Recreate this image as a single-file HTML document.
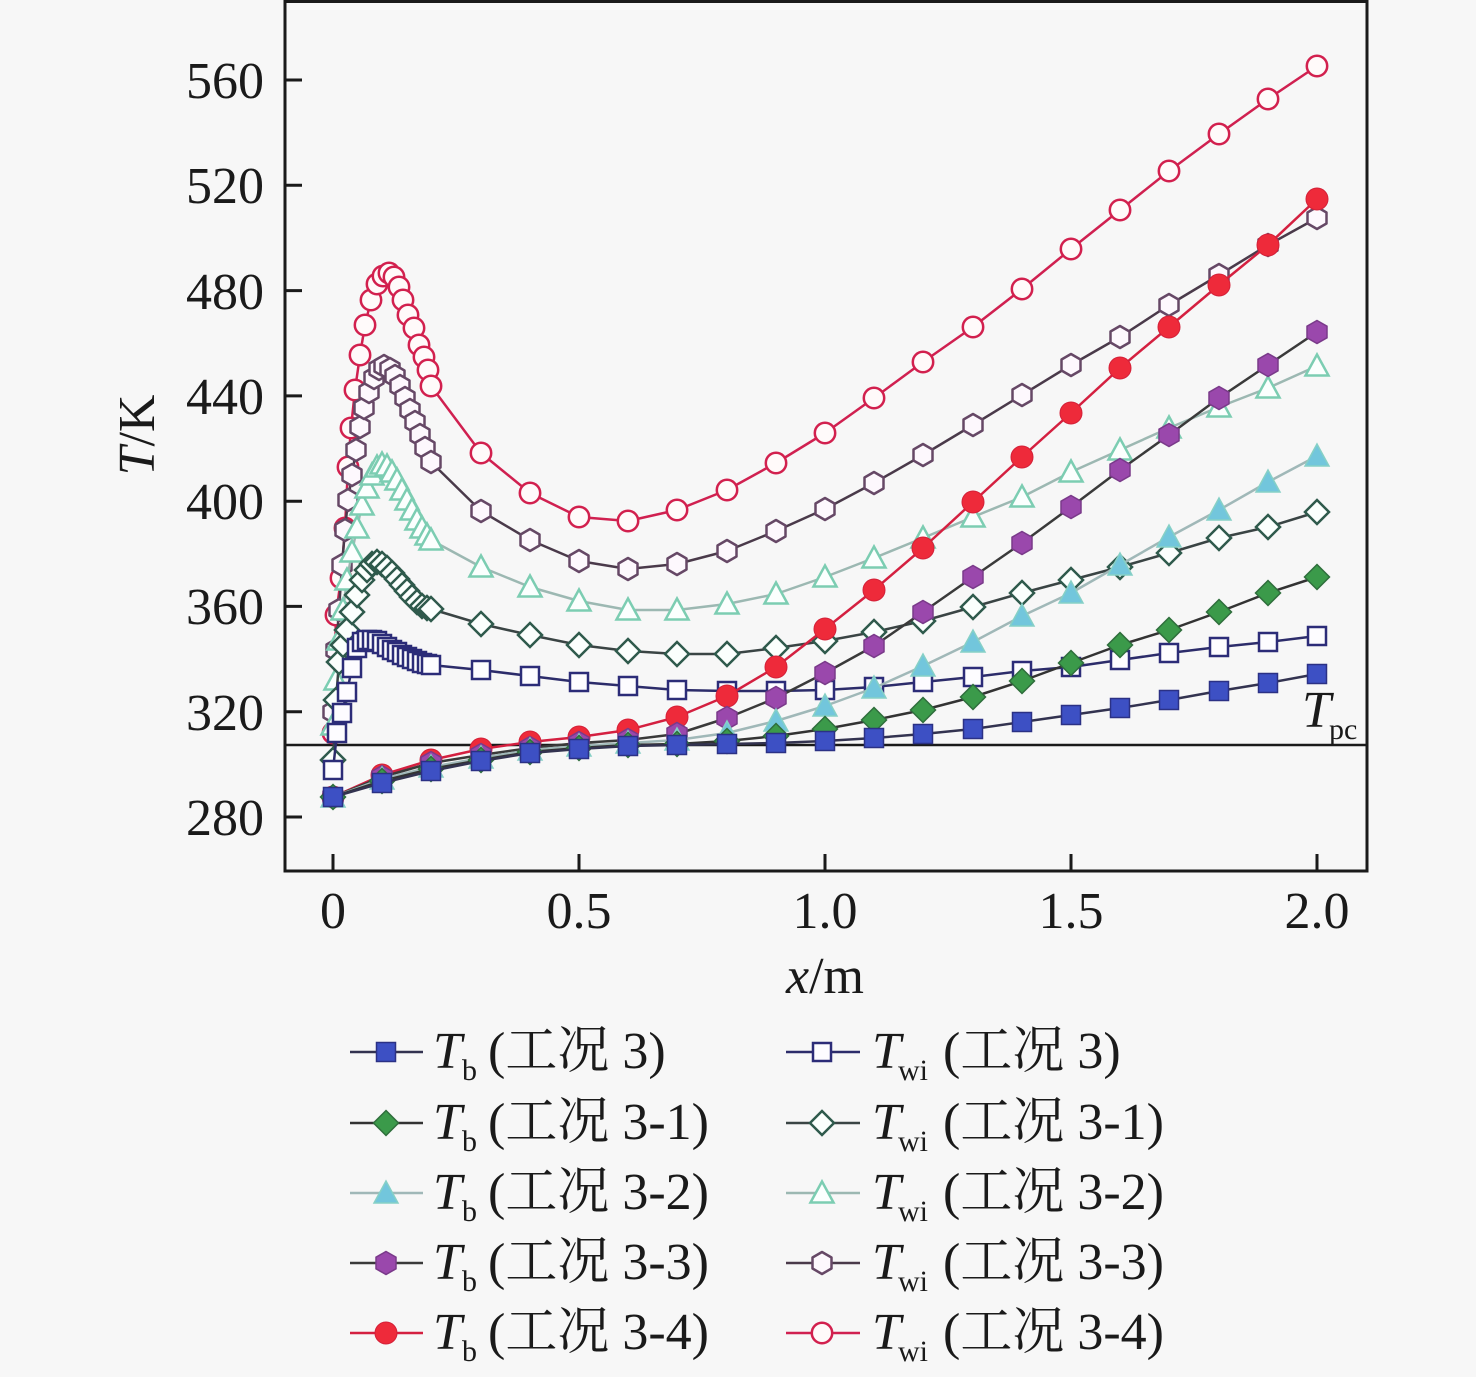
<!DOCTYPE html>
<html><head><meta charset="utf-8"><style>
html,body{margin:0;padding:0;background:#f7f7f7;}
svg{display:block;}
text{font-family:"Liberation Serif","Noto Serif CJK SC",serif;fill:#1a1a1a;}
</style></head><body>
<svg width="1476" height="1377" viewBox="0 0 1476 1377" xmlns="http://www.w3.org/2000/svg">
<defs>
<marker id="mSqF" markerUnits="userSpaceOnUse" markerWidth="30" markerHeight="30" refX="15" refY="15" overflow="visible"><rect x="5.5" y="5.5" width="19" height="19" fill="#3d50c4" stroke="#2b3185" stroke-width="1.5"/></marker>
<marker id="mSqO" markerUnits="userSpaceOnUse" markerWidth="30" markerHeight="30" refX="15" refY="15" overflow="visible"><rect x="6" y="6" width="18" height="18" fill="#fdfcff" stroke="#2c2c78" stroke-width="2.5"/></marker>
<marker id="mDiF" markerUnits="userSpaceOnUse" markerWidth="30" markerHeight="30" refX="15" refY="15" overflow="visible"><polygon points="15,2.5 27.5,15 15,27.5 2.5,15" fill="#3b9a4a" stroke="#2f6e3c" stroke-width="1.5"/></marker>
<marker id="mDiO" markerUnits="userSpaceOnUse" markerWidth="30" markerHeight="30" refX="15" refY="15" overflow="visible"><polygon points="15,3 27,15 15,27 3,15" fill="#fbfffd" stroke="#2f5a4c" stroke-width="2.5"/></marker>
<marker id="mTrF" markerUnits="userSpaceOnUse" markerWidth="30" markerHeight="30" refX="15" refY="15" overflow="visible"><polygon points="15,3 27,25 3,25" fill="#72c6dc" stroke="#86d0c6" stroke-width="1.5"/></marker>
<marker id="mTrO" markerUnits="userSpaceOnUse" markerWidth="30" markerHeight="30" refX="15" refY="15" overflow="visible"><polygon points="15,3.5 26.5,24.5 3.5,24.5" fill="#fbfffe" stroke="#7ccdb2" stroke-width="2.5"/></marker>
<marker id="mHxF" markerUnits="userSpaceOnUse" markerWidth="30" markerHeight="30" refX="15" refY="15" overflow="visible"><polygon points="15,3.5 25,9.2 25,20.8 15,26.5 5,20.8 5,9.2" fill="#9a48ac" stroke="#7a3a8a" stroke-width="1.5"/></marker>
<marker id="mHxO" markerUnits="userSpaceOnUse" markerWidth="30" markerHeight="30" refX="15" refY="15" overflow="visible"><polygon points="15,4 24.5,9.5 24.5,20.5 15,26 5.5,20.5 5.5,9.5" fill="#fdf8fd" stroke="#664866" stroke-width="2.5" stroke-linejoin="round"/></marker>
<marker id="mCiF" markerUnits="userSpaceOnUse" markerWidth="30" markerHeight="30" refX="15" refY="15" overflow="visible"><circle cx="15" cy="15" r="11" fill="#ee2a3a" stroke="#d42038" stroke-width="1"/></marker>
<marker id="mCiO" markerUnits="userSpaceOnUse" markerWidth="30" markerHeight="30" refX="15" refY="15" overflow="visible"><circle cx="15" cy="15" r="10.2" fill="#fffafa" stroke="#d2204e" stroke-width="2.5"/></marker>
</defs>

<rect x="0" y="0" width="1476" height="1377" fill="#f7f7f7"/>

<line x1="285" y1="745" x2="1367" y2="745" stroke="#1a1a1a" stroke-width="2.5"/>

<g fill="none" stroke-width="2.5" stroke-linejoin="round">
<polyline stroke="#d02050" marker-start="url(#mCiO)" marker-mid="url(#mCiO)" marker-end="url(#mCiO)" points="333,733 336,615 341,578 345,528 348,467 351,428 355,390 360,355 365,325 371,300 377,284 383,276 389,273 394,277 399,287 403,300 408,315 414,328 419,345 424,357 428,370 431,386 481,453 530,493 579,517 628,521 677,510 727,490 776,463 825,433 874,398 923,362 973,327 1022,289 1071,249 1120,210 1169,171 1219,134 1268,99 1317,66"/>
<polyline stroke="#4a3a4a" marker-start="url(#mHxO)" marker-mid="url(#mHxO)" marker-end="url(#mHxO)" points="333,712 336,650 339,610 342,565 345,530 348,500 352,475 356,450 360,427 364,408 369,392 374,378 379,369 384,366 390,369 395,376 400,386 405,398 410,410 415,422 420,435 425,448 431,462 481,511 530,540 579,561 628,569 677,564 727,551 776,531 825,509 874,483 923,455 973,425 1022,395 1071,365 1120,337 1169,305 1219,275 1268,245 1317,218"/>
<polyline stroke="#9cb8b2" marker-start="url(#mTrO)" marker-mid="url(#mTrO)" marker-end="url(#mTrO)" points="333,725 336,680 339,640 343,610 347,580 352,552 357,528 362,505 367,488 372,475 377,467 382,464 387,466 392,472 397,480 402,490 407,500 412,510 417,520 422,528 427,535 431,540 481,567 530,587 579,601 628,610 677,610 727,604 776,594 825,577 874,558 923,538 973,517 1022,497 1071,472 1120,450 1169,428 1219,407 1268,388 1317,366"/>
<polyline stroke="#3a4444" marker-start="url(#mDiO)" marker-mid="url(#mDiO)" marker-end="url(#mDiO)" points="333,760 336,700 339,662 343,645 347,630 352,612 357,595 362,580 367,570 372,564 377,562 382,564 387,568 392,573 397,579 402,585 407,591 412,597 417,602 422,606 427,608 431,609 481,624 530,635 579,645 628,651 677,654 727,654 776,648 825,641 874,632 923,621 973,607 1022,593 1071,580 1120,567 1169,553 1219,538 1268,527 1317,512"/>
<polyline stroke="#2c2c6a" marker-start="url(#mSqO)" marker-mid="url(#mSqO)" marker-end="url(#mSqO)" points="333,770 337,733 342,713 347,692 352,668 357,648 362,642 367,640 372,640 377,641 382,644 387,647 392,650 397,652 402,655 407,657 412,659 417,661 422,663 427,664 431,665 481,670 530,676 579,682 628,686 677,690 727,691 776,691 825,690 874,687 923,682 973,677 1022,671 1071,667 1120,660 1169,653 1219,647 1268,642 1317,636"/>
<polyline stroke="#d42040" marker-start="url(#mCiF)" marker-mid="url(#mCiF)" marker-end="url(#mCiF)" points="333,797 382,775 431,760 481,749 530,742 579,737 628,730 677,717 727,696 776,667 825,629 874,590 923,548 973,502 1022,457 1071,413 1120,368 1169,327 1219,285 1268,245 1317,199"/>
<polyline stroke="#3a3a3a" marker-start="url(#mHxF)" marker-mid="url(#mHxF)" marker-end="url(#mHxF)" points="333,797 382,777 431,763 481,755 530,748 579,743 628,740 677,734 727,718 776,698 825,673 874,646 923,612 973,577 1022,543 1071,507 1120,470 1169,435 1219,398 1268,365 1317,332"/>
<polyline stroke="#a0b8b8" marker-start="url(#mTrF)" marker-mid="url(#mTrF)" marker-end="url(#mTrF)" points="333,797 382,779 431,767 481,758 530,750 579,746 628,743 677,740 727,733 776,721 825,706 874,688 923,666 973,642 1022,616 1071,593 1120,565 1169,537 1219,510 1268,482 1317,456"/>
<polyline stroke="#333333" marker-start="url(#mDiF)" marker-mid="url(#mDiF)" marker-end="url(#mDiF)" points="333,797 382,781 431,769 481,760 530,752 579,748 628,745 677,744 727,741 776,736 825,729 874,720 923,710 973,697 1022,681 1071,663 1120,645 1169,630 1219,612 1268,593 1317,577"/>
<polyline stroke="#333350" marker-start="url(#mSqF)" marker-mid="url(#mSqF)" marker-end="url(#mSqF)" points="333,797 382,783 431,771 481,761 530,753 579,749 628,746 677,745 727,744 776,743 825,741 874,738 923,734 973,729 1022,722 1071,715 1120,708 1169,700 1219,691 1268,683 1317,674"/>
</g>

<rect x="285" y="1.5" width="1082" height="869.5" fill="none" stroke="#1a1a1a" stroke-width="3"/>
<g stroke="#1a1a1a" stroke-width="3">
<line x1="285" y1="817" x2="302" y2="817"/>
<line x1="285" y1="711.7" x2="302" y2="711.7"/>
<line x1="285" y1="606.4" x2="302" y2="606.4"/>
<line x1="285" y1="501.2" x2="302" y2="501.2"/>
<line x1="285" y1="395.9" x2="302" y2="395.9"/>
<line x1="285" y1="290.6" x2="302" y2="290.6"/>
<line x1="285" y1="185.3" x2="302" y2="185.3"/>
<line x1="285" y1="80" x2="302" y2="80"/>
<line x1="333" y1="871" x2="333" y2="854"/>
<line x1="579" y1="871" x2="579" y2="854"/>
<line x1="825" y1="871" x2="825" y2="854"/>
<line x1="1071" y1="871" x2="1071" y2="854"/>
<line x1="1317" y1="871" x2="1317" y2="854"/>
</g>

<g font-size="52" text-anchor="end">
<text x="264" y="835">280</text>
<text x="264" y="730">320</text>
<text x="264" y="624">360</text>
<text x="264" y="519">400</text>
<text x="264" y="414">440</text>
<text x="264" y="309">480</text>
<text x="264" y="203">520</text>
<text x="264" y="98">560</text>
</g>
<g font-size="52" text-anchor="middle">
<text x="333" y="928">0</text>
<text x="579" y="928">0.5</text>
<text x="825" y="928">1.0</text>
<text x="1071" y="928">1.5</text>
<text x="1317" y="928">2.0</text>
</g>

<text x="825" y="993" font-size="52" text-anchor="middle"><tspan font-style="italic">x</tspan>/m</text>
<text transform="translate(154,435) rotate(-90)" font-size="52" text-anchor="middle"><tspan font-style="italic">T</tspan>/K</text>

<text x="1302" y="727" font-size="52" font-style="italic">T</text>
<text x="1329" y="739" font-size="30">pc</text>

<g fill="none" stroke-width="2.5">
<polyline stroke="#333350" marker-mid="url(#mSqF)" points="350,1052 386,1052 423,1052"/>
<polyline stroke="#333333" marker-mid="url(#mDiF)" points="350,1123 386,1123 423,1123"/>
<polyline stroke="#a0b8b8" marker-mid="url(#mTrF)" points="350,1193 386,1193 423,1193"/>
<polyline stroke="#3a3a3a" marker-mid="url(#mHxF)" points="350,1263 386,1263 423,1263"/>
<polyline stroke="#d42040" marker-mid="url(#mCiF)" points="350,1333 386,1333 423,1333"/>
<polyline stroke="#2c2c6a" marker-mid="url(#mSqO)" points="786,1052 822,1052 860,1052"/>
<polyline stroke="#3a4444" marker-mid="url(#mDiO)" points="786,1123 822,1123 860,1123"/>
<polyline stroke="#9cb8b2" marker-mid="url(#mTrO)" points="786,1193 822,1193 860,1193"/>
<polyline stroke="#4a3a4a" marker-mid="url(#mHxO)" points="786,1263 822,1263 860,1263"/>
<polyline stroke="#d02050" marker-mid="url(#mCiO)" points="786,1333 822,1333 860,1333"/>
</g>

<g font-size="52">
<text x="433" y="1068" font-style="italic">T</text><text x="462" y="1080" font-size="30">b</text><text x="488" y="1068">(工况 3)</text>
<text x="433" y="1139" font-style="italic">T</text><text x="462" y="1151" font-size="30">b</text><text x="488" y="1139">(工况 3-1)</text>
<text x="433" y="1209" font-style="italic">T</text><text x="462" y="1221" font-size="30">b</text><text x="488" y="1209">(工况 3-2)</text>
<text x="433" y="1279" font-style="italic">T</text><text x="462" y="1291" font-size="30">b</text><text x="488" y="1279">(工况 3-3)</text>
<text x="433" y="1349" font-style="italic">T</text><text x="462" y="1361" font-size="30">b</text><text x="488" y="1349">(工况 3-4)</text>

<text x="872" y="1068" font-style="italic">T</text><text x="898" y="1080" font-size="30">wi</text><text x="943" y="1068">(工况 3)</text>
<text x="872" y="1139" font-style="italic">T</text><text x="898" y="1151" font-size="30">wi</text><text x="943" y="1139">(工况 3-1)</text>
<text x="872" y="1209" font-style="italic">T</text><text x="898" y="1221" font-size="30">wi</text><text x="943" y="1209">(工况 3-2)</text>
<text x="872" y="1279" font-style="italic">T</text><text x="898" y="1291" font-size="30">wi</text><text x="943" y="1279">(工况 3-3)</text>
<text x="872" y="1349" font-style="italic">T</text><text x="898" y="1361" font-size="30">wi</text><text x="943" y="1349">(工况 3-4)</text>
</g>
</svg>
</body></html>
